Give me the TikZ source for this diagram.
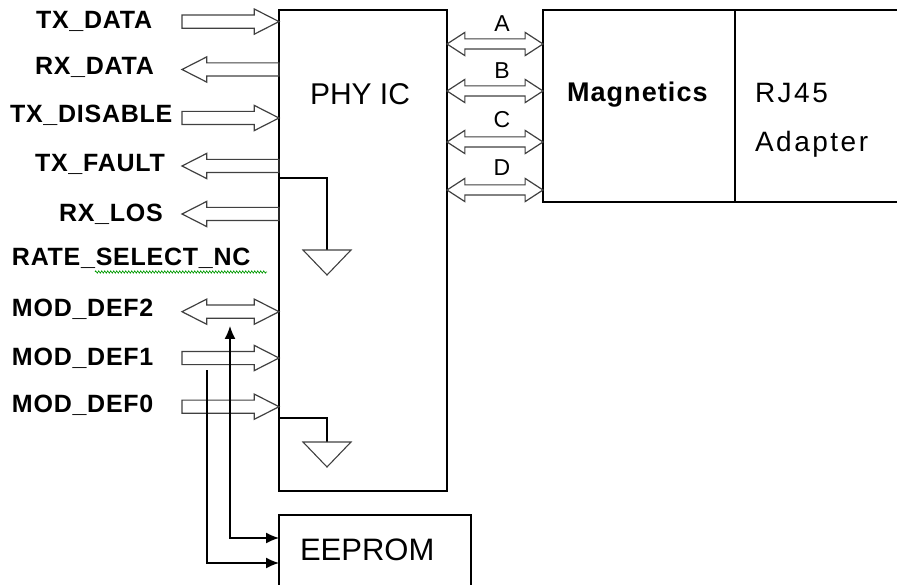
\documentclass[tikz,border=0pt]{standalone}
\usepackage{fontspec}
\setmainfont{Liberation Sans}
\usetikzlibrary{shapes, shapes.arrows, arrows.meta, positioning, decorations.pathmorphing}

\begin{document}
\begin{tikzpicture}[x=1pt, y=-1pt, line width=1.4pt, >={Latex[length=13pt, width=11pt]},
  every node/.style={inner sep=0pt, outer sep=0pt},
  sig/.style={anchor=base west, font=\fontsize{25}{30}\selectfont\bfseries\addfontfeature{LetterSpace=3}},
  lbl/.style={anchor=base west, font=\fontsize{30}{36}\selectfont},
  pin/.style={anchor=base, font=\fontsize{23}{27}\selectfont},
  sigin/.style={single arrow, draw=black!75, line width=1.2pt, minimum height=97pt, inner ysep=6pt,
    single arrow head extend=6pt, single arrow tip angle=54, anchor=tip},
  sigout/.style={sigin, shape border rotate=180, anchor=tail},
  sigbi/.style={double arrow, draw=black!75, line width=1.2pt, minimum height=97pt, inner ysep=6pt,
    double arrow head extend=6pt, double arrow tip angle=54, anchor=tip 1},
  pairbi/.style={double arrow, draw=black!75, line width=1.2pt, minimum height=96pt, inner ysep=4.5pt,
    double arrow head extend=6.5pt, double arrow tip angle=66, anchor=tip 2},
  gnd/.style={draw=black!75, line width=1.1pt}]
\useasboundingbox (0,0) rectangle (897,585);

% boxes
\node[draw, minimum width=168pt, minimum height=481pt] (phy) at (363,250.5) {};
\node[draw, minimum width=192pt, minimum height=192pt] (mag) at (639,106) {};
\node[draw, minimum width=230pt, minimum height=192pt, anchor=west] (rj) at (mag.east) {};
\node[draw, minimum width=192pt, minimum height=110pt, anchor=north west] (eeprom) at (279,515) {};

\node[lbl] (phytxt) at (310,105) {PHY IC};
\node[lbl, font=\fontsize{27}{30}\selectfont\bfseries\addfontfeature{LetterSpace=4}] (magtxt) at (567,102) {Magnetics};
\node[lbl, font=\fontsize{28}{32}\selectfont\addfontfeature{LetterSpace=9}] (rjtxt) at (755,103) {RJ45};
\node[lbl, font=\fontsize{28}{32}\selectfont\addfontfeature{LetterSpace=9}] (adtxt) at (755,152) {Adapter};
\node[lbl, font=\fontsize{31}{36}\selectfont] (eetxt) at (300,560) {EEPROM};

% module signals
\node[sig] (txdtxt) at (36,28.3) {TX\_DATA};
\node[sig] (rxdtxt) at (35,75) {RX\_DATA};
\node[sig] (txdistxt) at (10,123) {TX\_DISABLE};
\node[sig] (txftxt) at (35,172) {TX\_FAULT};
\node[sig] (rxlostxt) at (59,221.7) {RX\_LOS};
\node[sig] (ratetxt) at (12,266) {RATE\_SELECT\_NC};
\node[sig] (md2txt) at (12,316.7) {MOD\_DEF2};
\node[sig] (md1txt) at (12,365) {MOD\_DEF1};
\node[sig] (md0txt) at (12,412) {MOD\_DEF0};

\draw[green!60!black, line width=0.6pt, decorate, decoration={zigzag, amplitude=1.2pt, segment length=3pt}] (95,272) -- (267,272);

\node[sigin] (txd) at (phy.west |- 0,21.6) {};
\node[sigout] (rxd) at (phy.west |- 0,69.5) {};
\node[sigin] (txdis) at (phy.west |- 0,118) {};
\node[sigout] (txf) at (phy.west |- 0,166) {};
\node[sigout] (rxlos) at (phy.west |- 0,214) {};
\node[sigbi] (md2) at (phy.west |- 0,311.7) {};
\node[sigin] (md1) at (phy.west |- 0,358) {};
\node[sigin] (md0) at (phy.west |- 0,406.7) {};

% pairs to magnetics
\node[pin] (patxt) at (502,32) {A};
\node[pin] (pbtxt) at (502,79) {B};
\node[pin] (pctxt) at (502,128) {C};
\node[pin] (pdtxt) at (502,176) {D};
\node[pairbi, fill=white] (pa) at (phy.east |- 0,44) {};
\node[pairbi, fill=white] (pb) at (phy.east |- 0,91) {};
\node[pairbi, fill=white] (pc) at (phy.east |- 0,142) {};
\node[pairbi, fill=white] (pd) at (phy.east |- 0,190) {};

% grounds
\coordinate (g1) at (327,250);
\coordinate (g2) at (327,442);
\draw (phy.west |- 0,178) -| (g1);
\draw (phy.west |- 0,418) -| (g2);
\draw[gnd] (g1) ++(-24,0) -- ++(48,0) -- ++(-24,25) -- cycle;
\draw[gnd] (g2) ++(-24,0) -- ++(48,0) -- ++(-24,25) -- cycle;

% eeprom bus
\coordinate (md2foot) at (230,326);
\coordinate (md1foot) at (207,370);
\draw[<->] (md2foot) |- (eeprom.west |- 0,538);
\draw[->] (md1foot) |- (eeprom.west |- 0,563);
\end{tikzpicture}
\end{document}
